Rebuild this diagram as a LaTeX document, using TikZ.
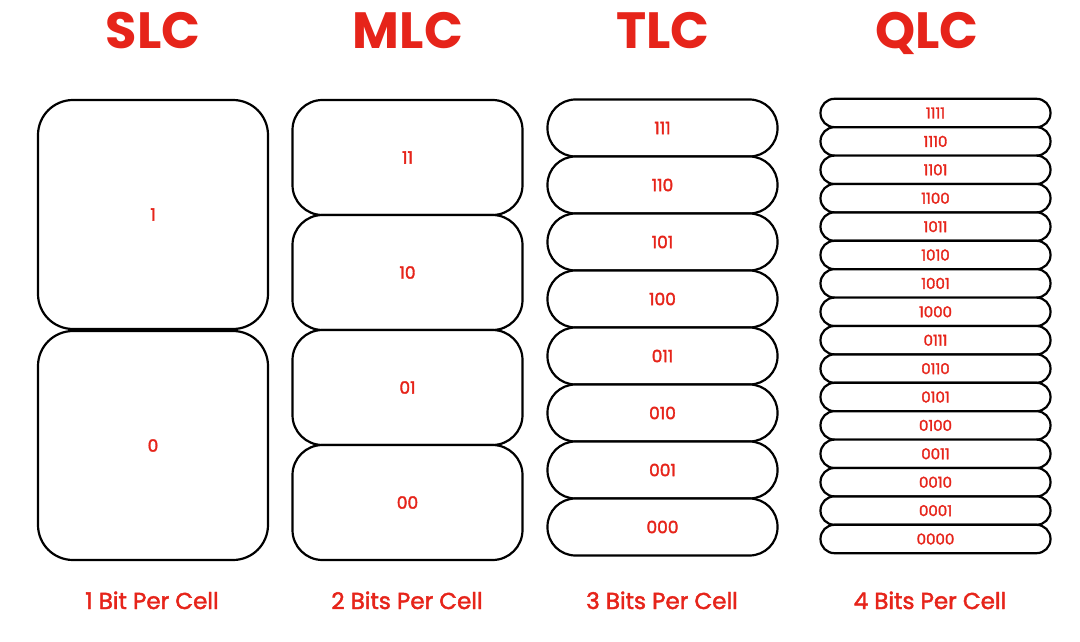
\documentclass[tikz,border=0pt]{standalone}
\usepackage{fontspec}
\setmainfont{Poppins}
\newfontfamily\popmed{Poppins}[FakeBold=2]
\usetikzlibrary{positioning}
\definecolor{flashred}{RGB}{230,36,26}
\tikzset{
  cellbox/.style={draw=black, line width=2.2pt, fill=white, rounded corners=#1,
    text=flashred, inner sep=0pt, minimum width=230pt},
  title/.style={text=flashred, anchor=base, font=\bfseries\fontsize{51}{51}\selectfont},
  caption/.style={text=flashred, anchor=base, font=\popmed\fontsize{23}{23}\selectfont}
}

\begin{document}
\begin{tikzpicture}[x=1pt,y=-1pt]
  \useasboundingbox (0,0) rectangle (1080,642);
  % titles
  \node[title] (slc) at (153,49) {SLC};
  \node[title] (mlc) at (408,49) {MLC};
  \node[title] (tlc) at (663,49) {TLC};
  \node[title] (qlc) at (927,49) {QLC};
  % SLC: one bit
  \foreach \lbl [count=\i from 0] in {1,0}
    \node[cellbox=35pt, minimum height=229pt, font=\popmed\fontsize{17}{17}\selectfont]
      (s\i) at (153,{214.5+231*\i}) {\lbl};
  % MLC: two bits
  \foreach \lbl [count=\i from 0] in {11,10,01,00}
    \node[cellbox=30pt, minimum height=115pt, font=\popmed\fontsize{17}{17}\selectfont]
      (m\i) at (407.5,{157.5+115*\i}) {\lbl};
  % TLC: three bits
  \foreach \lbl [count=\i from 0] in {111,110,101,100,011,010,001,000}
    \node[cellbox=28pt, minimum height=57pt, font=\popmed\fontsize{17}{17}\selectfont]
      (t\i) at (662.5,{128+57*\i}) {\lbl};
  % QLC: four bits
  \foreach \lbl [count=\i from 0] in {1111,1110,1101,1100,1011,1010,1001,1000,0111,0110,0101,0100,0011,0010,0001,0000}
    \node[cellbox=14pt, minimum height=28.4pt, font=\popmed\fontsize{15}{15}\selectfont]
      (q\i) at (935.5,{113+28.4*\i}) {\lbl};
  % captions
  \node[caption] (c1) at (152,609) {1 Bit Per Cell};
  \node[caption] (c2) at (407,609) {2 Bits Per Cell};
  \node[caption] (c3) at (662,609) {3 Bits Per Cell};
  \node[caption] (c4) at (930,609) {4 Bits Per Cell};
\end{tikzpicture}
\end{document}
